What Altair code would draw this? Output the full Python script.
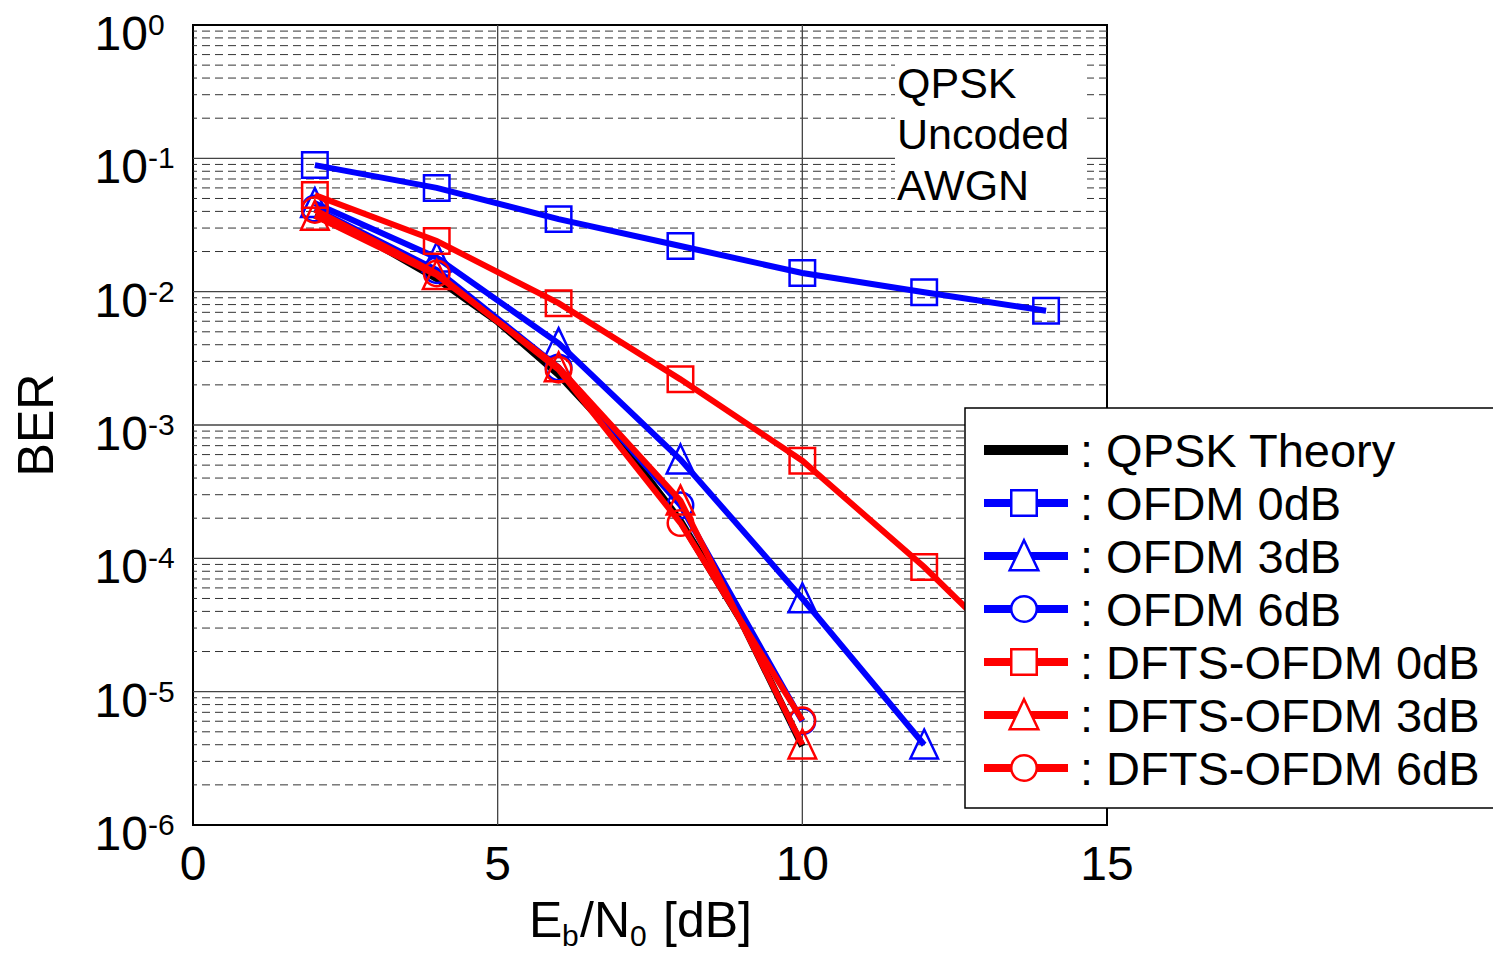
import altair as alt
import pandas as pd

W, H = 914, 800
FONT = "Liberation Sans"

# ---------------- data ----------------
theory_x = [2, 3, 4, 5, 6, 7, 8, 9, 10]
theory_ber = [3.75e-2, 2.29e-2, 1.25e-2, 5.95e-3, 2.39e-3, 7.7e-4, 1.91e-4, 3.36e-5, 3.9e-6]

ofdm0_x = [2, 4, 6, 8, 10, 12, 14]
ofdm0_ber = [0.089, 0.060, 0.035, 0.022, 0.0138, 0.0099, 0.0072]

ofdm3_x = [2, 4, 6, 8, 10, 12]
ofdm3_ber = [0.046, 0.018, 0.0041, 5.5e-4, 5.0e-5, 4.0e-6]

ofdm6_x = [2, 4, 6, 8, 10]
ofdm6_ber = [0.042, 0.0145, 0.0027, 2.5e-4, 6.0e-6]

dfts0_x = [2, 4, 6, 8, 10, 12, 14]
dfts0_ber = [0.053, 0.024, 0.0082, 0.0022, 5.4e-4, 8.6e-5, 1.1e-5]

dfts3_x = [2, 4, 6, 8, 10]
dfts3_ber = [0.037, 0.0133, 0.0027, 2.7e-4, 4.0e-6]

dfts6_x = [2, 4, 6, 8, 10]
dfts6_ber = [0.041, 0.0137, 0.0026, 1.84e-4, 6.1e-6]

legend_labels = [": QPSK Theory", ": OFDM 0dB", ": OFDM 3dB", ": OFDM 6dB",
                 ": DFTS-OFDM 0dB", ": DFTS-OFDM 3dB", ": DFTS-OFDM 6dB"]
annotation_lines = ["QPSK", "Uncoded", "AWGN"]
x_ticks = [0, 5, 10, 15]
y_exponents = [0, -1, -2, -3, -4, -5, -6]

# ---------------- styling ----------------
BLUE, RED, BLACK = "#0000ff", "#ff0000", "#000000"
TRI = "M0,-1.1L1,1L-1,1Z"
series = [
    (theory_x, theory_ber, BLACK, None),
    (ofdm0_x, ofdm0_ber, BLUE, "square"),
    (ofdm3_x, ofdm3_ber, BLUE, TRI),
    (ofdm6_x, ofdm6_ber, BLUE, "circle"),
    (dfts0_x, dfts0_ber, RED, "square"),
    (dfts3_x, dfts3_ber, RED, TRI),
    (dfts6_x, dfts6_ber, RED, "circle"),
]
SIZES = {"square": 650, "circle": 650, TRI: 760}

xs = alt.Scale(domain=[0, 15], nice=False, zero=False)
ys = alt.Scale(type="log", domain=[1e-6, 1], nice=False)
X = alt.X("x:Q", scale=xs, axis=None)
Y = alt.Y("y:Q", scale=ys, axis=None)

one = pd.DataFrame({"d": [0]})
layers = []

# minor grid
minor = [m * 10.0 ** k for k in range(-6, 0) for m in range(2, 10)]
layers.append(alt.Chart(pd.DataFrame({"y": minor})).mark_rule(
    color="#333333", strokeWidth=1, strokeDash=[8, 5]).encode(y=Y))
# major grid
layers.append(alt.Chart(pd.DataFrame({"y": [1e-1, 1e-2, 1e-3, 1e-4, 1e-5]})).mark_rule(
    color="#444444", strokeWidth=1.3).encode(y=Y))
layers.append(alt.Chart(pd.DataFrame({"x": [5, 10]})).mark_rule(
    color="#444444", strokeWidth=1.3).encode(x=X))

# annotation box
layers.append(alt.Chart(one).mark_rect(fill="white", stroke=None).encode(
    x=alt.value(702), x2=alt.value(894), y=alt.value(33), y2=alt.value(180)))
for i, t in enumerate(annotation_lines):
    layers.append(alt.Chart(one).mark_text(
        text=t, font=FONT, fontSize=43, align="left", baseline="alphabetic", color="black"
    ).encode(x=alt.value(704), y=alt.value(73 + 51 * i)))

# data series
for sx, sy, col, shp in series:
    df = pd.DataFrame({"x": sx, "y": sy})
    sw = 7 if shp is None else 6
    layers.append(alt.Chart(df).mark_line(color=col, strokeWidth=sw).encode(x=X, y=Y))
    if shp is not None:
        layers.append(alt.Chart(df).mark_point(
            shape=shp, size=SIZES[shp], filled=False, color=col, strokeWidth=2.5, opacity=1
        ).encode(x=X, y=Y))

# legend
layers.append(alt.Chart(one).mark_rect(fill="white", stroke="black", strokeWidth=1.5).encode(
    x=alt.value(772), x2=alt.value(1320), y=alt.value(383), y2=alt.value(783)))
for i, ((sx, sy, col, shp), lab) in enumerate(zip(series, legend_labels)):
    ry = 425 + 53 * i
    layers.append(alt.Chart(one).mark_rule(color=col, strokeWidth=10 if shp is None else 8).encode(
        x=alt.value(791), x2=alt.value(875), y=alt.value(ry)))
    if shp is not None:
        layers.append(alt.Chart(one).mark_point(
            shape=shp, size=SIZES[shp] + (60 if shp == TRI else 0), filled=False, fill="white",
            color=col, strokeWidth=2.5, opacity=1
        ).encode(x=alt.value(831), y=alt.value(ry)))
    layers.append(alt.Chart(one).mark_text(
        text=lab, font=FONT, fontSize=47, align="left", baseline="alphabetic", color="black"
    ).encode(x=alt.value(887), y=alt.value(ry + 17)))

# y tick labels (10 with superscript exponent)
ylab = pd.DataFrame({"y": [10.0 ** e for e in y_exponents],
                     "b": ["10"] * len(y_exponents),
                     "e": [str(e) for e in y_exponents]})
layers.append(alt.Chart(ylab).mark_text(
    font=FONT, fontSize=48, align="right", baseline="alphabetic", dy=25, color="black"
).encode(y=Y, x=alt.value(-45), text="b:N"))
layers.append(alt.Chart(ylab).mark_text(
    font=FONT, fontSize=30, align="left", baseline="alphabetic", dy=10, color="black"
).encode(y=Y, x=alt.value(-45), text="e:N"))

# x tick labels
xlab = pd.DataFrame({"x": x_ticks, "t": [str(v) for v in x_ticks]})
layers.append(alt.Chart(xlab).mark_text(
    font=FONT, fontSize=48, align="center", baseline="alphabetic", color="black"
).encode(x=X, y=alt.value(H + 55), text="t:N"))

# axis titles
layers.append(alt.Chart(one).mark_text(
    text="BER", font=FONT, fontSize=50, angle=270, align="center", baseline="middle", color="black"
).encode(x=alt.value(-155), y=alt.value(400)))
title_parts = [("E", 336, 912, 50), ("b", 369, 921, 30), ("/N", 387, 912, 50),
               ("0", 437, 921, 30), ("[dB]", 470, 912, 50)]
for t, px, py, fs in title_parts:
    layers.append(alt.Chart(one).mark_text(
        text=t, font=FONT, fontSize=fs, align="left", baseline="alphabetic", color="black"
    ).encode(x=alt.value(px), y=alt.value(py)))

chart = alt.layer(*layers).properties(
    width=W, height=H,
    autosize=alt.AutoSizeParams(type="none"),
    padding={"left": 185, "top": 17, "right": 386, "bottom": 128},
    background="white",
).configure_view(stroke="black", strokeWidth=2)

chart.save("out.html", embed_options={"renderer": "svg", "actions": False})
